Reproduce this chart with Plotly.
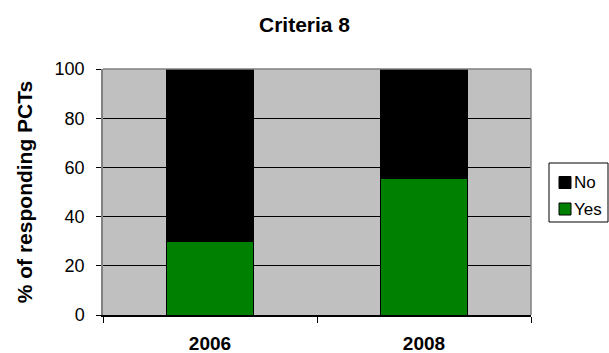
import plotly.graph_objects as go

# Survey results for Criteria 8
years = ["2006", "2008"]
yes_pct = [30, 55.6]
no_pct = [70, 44.4]
y_ticks = [0, 20, 40, 60, 80, 100]

FONT = "Liberation Sans, Arial, sans-serif"
W, H = 609, 353
M_L, M_R, M_T, M_B = 103, 78, 69, 38
PLOT_W = W - M_L - M_R
PLOT_H = H - M_T - M_B


def px_x(px):
    """Pixel column -> paper x."""
    return (px - M_L) / PLOT_W


def px_y(py):
    """Pixel row -> paper y."""
    return (H - M_B - py) / PLOT_H


series = [
    ("Yes", yes_pct, "#008000"),
    ("No", no_pct, "#000000"),
]

fig = go.Figure()
for name, vals, color in series:
    fig.add_trace(go.Bar(
        x=years, y=vals, name=name,
        marker=dict(color=color, line=dict(color="#000000", width=1)),
        showlegend=False,
    ))

# plot frame: grey top and right edges
fig.add_shape(type="line", xref="paper", yref="paper", x0=0, x1=1, y0=1, y1=1,
              line=dict(color="#808080", width=1.5), layer="above")
fig.add_shape(type="line", xref="paper", yref="paper", x0=1, x1=1, y0=0, y1=1,
              line=dict(color="#808080", width=1.5), layer="above")

# compact boxed legend (top entry = top of stack)
fig.add_shape(type="rect", xref="paper", yref="paper",
              x0=px_x(549), x1=px_x(608), y0=px_y(222), y1=px_y(163),
              line=dict(color="#000000", width=1), fillcolor="white", layer="above")
for i, (name, vals, color) in enumerate(reversed(series)):
    cy = 182.5 + i * 26.5
    fig.add_shape(type="rect", xref="paper", yref="paper",
                  x0=px_x(559), x1=px_x(571), y0=px_y(cy + 6), y1=px_y(cy - 6),
                  line=dict(color="#000000", width=1), fillcolor=color, layer="above")
    fig.add_annotation(text=name, xref="paper", yref="paper",
                       x=px_x(572), y=px_y(cy), xanchor="left", yanchor="middle",
                       showarrow=False, font=dict(size=17, color="#000000"))

fig.update_layout(
    width=W, height=H,
    margin=dict(l=M_L, r=M_R, t=M_T, b=M_B, autoexpand=False),
    barmode="stack",
    bargap=0.593,
    paper_bgcolor="white",
    plot_bgcolor="#C0C0C0",
    font=dict(family=FONT, size=18, color="#000000"),
    title=dict(text="<b>Criteria 8</b>", x=0.5, xanchor="center",
               y=1 - 25 / H, yanchor="middle", font=dict(size=21)),
    showlegend=False,
)

fig.update_xaxes(
    tickson="boundaries", ticks="outside", ticklen=6, tickcolor="#000000",
    showline=True, linecolor="#000000", linewidth=1.5,
    showgrid=False, tickfont=dict(size=19),
    tickprefix="<b>", ticksuffix="</b>", ticklabelstandoff=10,
)
fig.update_yaxes(
    range=[0, 100], tickvals=y_ticks, ticks="outside", ticklen=5,
    tickcolor="#000000",
    showline=True, linecolor="#808080", linewidth=1.5,
    showgrid=True, gridcolor="#000000", gridwidth=1,
    zeroline=False, tickfont=dict(size=18), ticklabelstandoff=8,
    title=dict(text="<b>% of responding PCTs</b>", font=dict(size=21), standoff=16),
)

fig.write_html("out.html")
